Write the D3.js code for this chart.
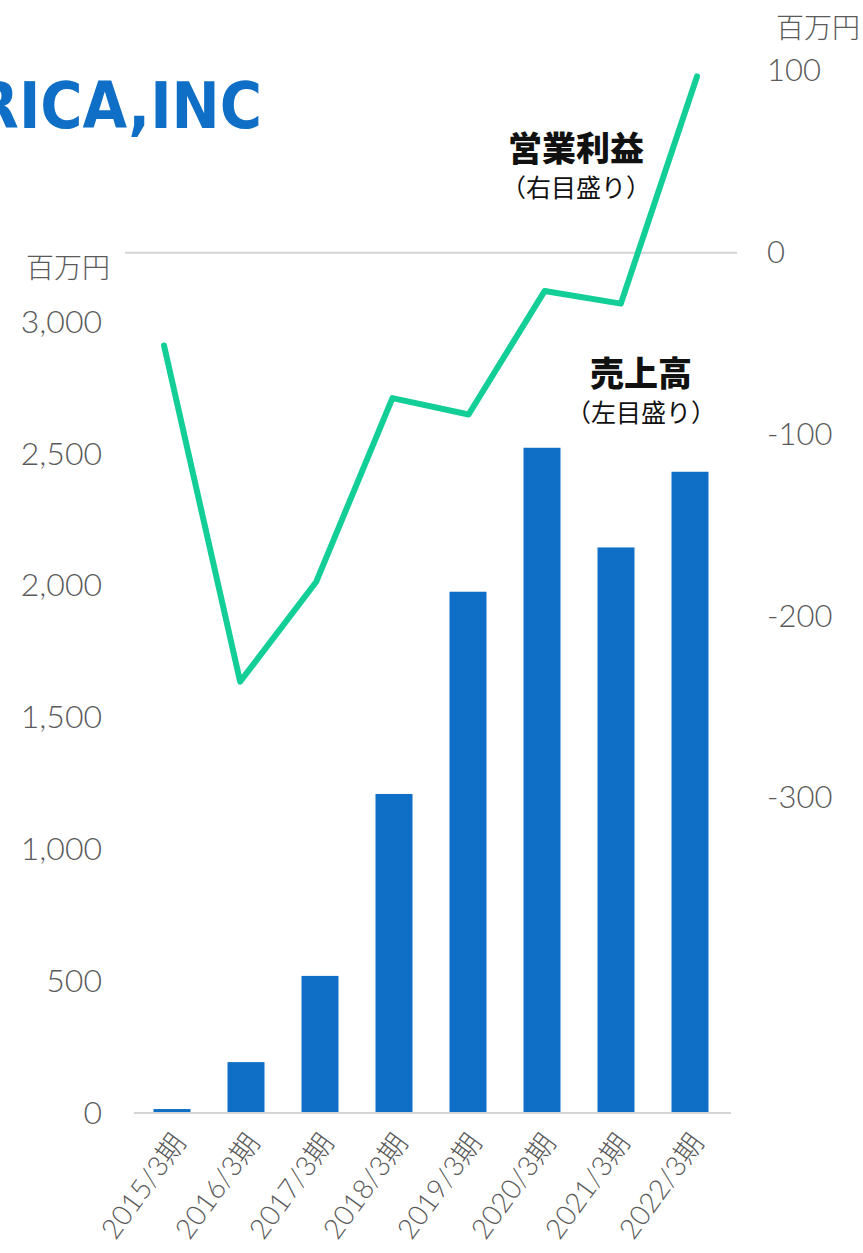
<!DOCTYPE html>
<html>
<head>
<meta charset="utf-8">
<script src="https://cdn.jsdelivr.net/npm/d3@7"></script>
<style>
  body { margin: 0; background: #fff; }
  svg text { font-family: Lato, "Noto Sans CJK JP", sans-serif; }
</style>
</head>
<body>
<div id="chart"></div>
<script>
// data
var periods = ["2015/3期", "2016/3期", "2017/3期", "2018/3期", "2019/3期", "2020/3期", "2021/3期", "2022/3期"];
var sales = [15, 193, 520, 1210, 1977, 2523, 2145, 2432];       // 売上高, left axis
var profit = [-51, -236, -181, -80, -89, -21, -28, 97];         // 営業利益, right axis
var leftTicks = [0, 500, 1000, 1500, 2000, 2500, 3000];
var rightTicks = [-300, -200, -100, 0, 100];

var width = 863, height = 1253;
var blue = "#0f6fc6", green = "#13cf97", grey = "#5a5a5a";

var svg = d3.select("#chart")
  .append("svg")
  .attr("width", width)
  .attr("height", height);

var x = d3.scaleBand()
  .domain(periods)
  .range([135, 727])
  .paddingInner(0.5)
  .paddingOuter(0.25);

// the line in the original is spread a bit wider than the bars
var xLine = d3.scalePoint()
  .domain(periods)
  .range([164, 697]);

var yLeft = d3.scaleLinear().domain([0, 3000]).range([1113, 322]);
var yRight = d3.scaleLinear().domain([-300, 100]).range([798, 71]);

// title (cut off at the left edge like the original)
svg.append("text")
  .attr("x", 262)
  .attr("y", 128)
  .attr("text-anchor", "end")
  .style("font-family", "'DejaVu Sans Condensed', 'DejaVu Sans', sans-serif")
  .style("font-weight", "bold")
  .style("font-size", "64px")
  .style("fill", blue)
  .text("RICA,INC");

// right axis zero line
svg.append("line")
  .attr("x1", 125).attr("x2", 737)
  .attr("y1", yRight(0)).attr("y2", yRight(0))
  .style("stroke", "#d4d4d4")
  .style("stroke-width", 2);

// bars
svg.selectAll(".bar")
  .data(sales)
  .enter().append("rect")
  .attr("class", "bar")
  .attr("x", function (d, i) { return x(periods[i]); })
  .attr("y", function (d) { return yLeft(d); })
  .attr("width", x.bandwidth())
  .attr("height", function (d) { return yLeft(0) - yLeft(d); })
  .style("fill", blue);

// baseline
svg.append("line")
  .attr("x1", 134).attr("x2", 731)
  .attr("y1", yLeft(0)).attr("y2", yLeft(0))
  .style("stroke", "#d4d4d4")
  .style("stroke-width", 2);

// profit line
var line = d3.line()
  .x(function (d, i) { return xLine(periods[i]); })
  .y(function (d) { return yRight(d); });

svg.append("path")
  .datum(profit)
  .attr("d", line)
  .style("fill", "none")
  .style("stroke", green)
  .style("stroke-width", 6)
  .style("stroke-linejoin", "round")
  .style("stroke-linecap", "round");

// left axis
var leftAxis = d3.axisLeft(yLeft)
  .tickValues(leftTicks)
  .tickFormat(d3.format(","))
  .tickSize(0)
  .tickPadding(0);

var gl = svg.append("g")
  .attr("transform", "translate(102,0)")
  .call(leftAxis);
gl.select(".domain").remove();
gl.selectAll("text")
  .style("font-family", "Lato, sans-serif")
  .style("font-weight", 300)
  .style("font-size", "32px")
  .style("fill", grey);

// right axis (plain hyphen for negatives, as in the original)
var rightAxis = d3.axisRight(yRight)
  .tickValues(rightTicks)
  .tickFormat(function (d) { return String(d); })
  .tickSize(0)
  .tickPadding(0);

var gr = svg.append("g")
  .attr("transform", "translate(767,0)")
  .call(rightAxis);
gr.select(".domain").remove();
gr.selectAll("text")
  .style("font-family", "Lato, sans-serif")
  .style("font-weight", 300)
  .style("font-size", "31px")
  .style("fill", grey);

// x axis labels, rotated
var bottomAxis = d3.axisBottom(x).tickSize(0).tickPadding(0);
var gb = svg.append("g")
  .attr("transform", "translate(0," + yLeft(0) + ")")
  .call(bottomAxis);
gb.select(".domain").remove();
gb.selectAll("text")
  .attr("text-anchor", "end")
  .attr("dy", "0.35em")
  .attr("transform", "translate(7,24) rotate(-54)")
  .style("font-family", "Lato, 'Noto Sans CJK JP', sans-serif")
  .style("font-weight", 300)
  .style("font-size", "28px")
  .style("fill", grey);

// unit labels
svg.append("text")
  .attr("x", 68).attr("y", 278)
  .attr("text-anchor", "middle")
  .style("font-family", "'Noto Sans CJK JP', sans-serif")
  .style("font-weight", 300)
  .style("font-size", "28px")
  .style("fill", grey)
  .text("百万円");

svg.append("text")
  .attr("x", 818).attr("y", 38)
  .attr("text-anchor", "middle")
  .style("font-family", "'Noto Sans CJK JP', sans-serif")
  .style("font-weight", 300)
  .style("font-size", "28px")
  .style("fill", grey)
  .text("百万円");

// series annotations
function note(cx, cy, title, sub) {
  svg.append("text")
    .attr("x", cx).attr("y", cy)
    .attr("text-anchor", "middle")
    .style("font-family", "'Noto Sans CJK JP', sans-serif")
    .style("font-weight", 900)
    .style("font-size", "34px")
    .style("fill", "#111")
    .text(title);
  svg.append("text")
    .attr("x", cx).attr("y", cy + 36)
    .attr("text-anchor", "middle")
    .style("font-family", "'Noto Sans CJK JP', sans-serif")
    .style("font-size", "25px")
    .style("fill", "#111")
    .text(sub);
}

note(576, 161, "営業利益", "（右目盛り）");
note(641, 386, "売上高", "（左目盛り）");
</script>
</body>
</html>
